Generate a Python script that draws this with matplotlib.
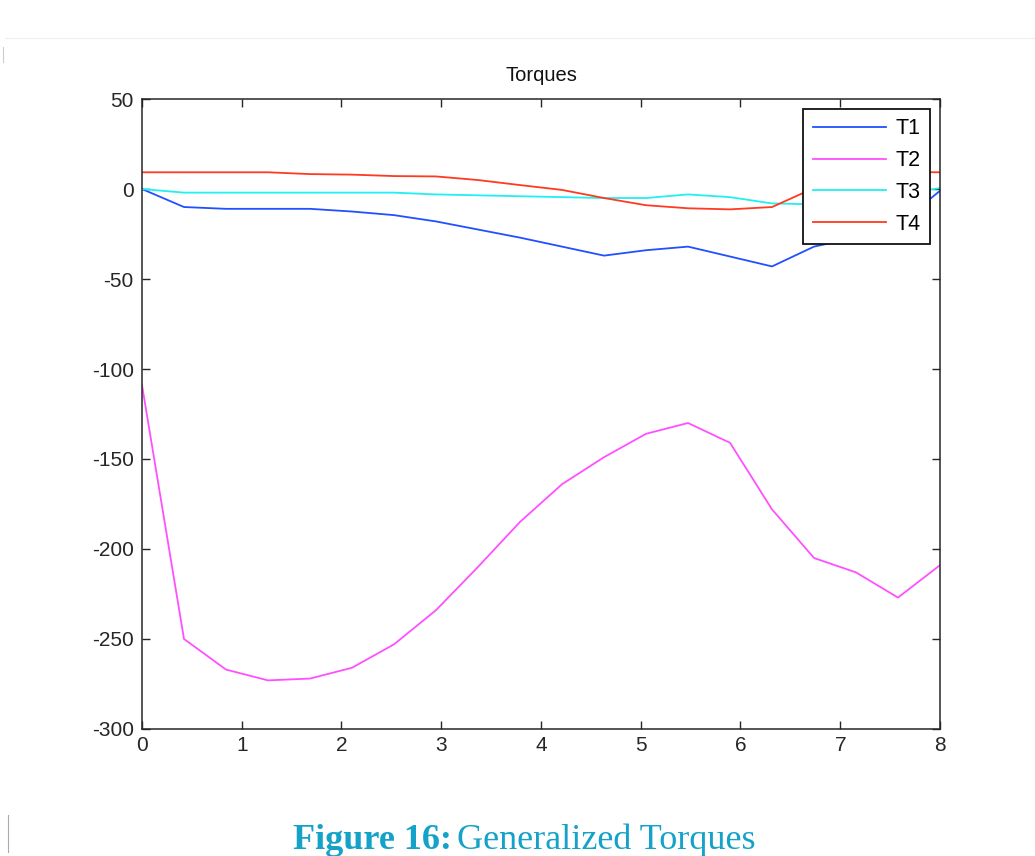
import matplotlib.pyplot as plt
from matplotlib.lines import Line2D

# time samples (20 points over 0..8)
t = [0.0, 0.421, 0.842, 1.263, 1.684, 2.105, 2.526, 2.947, 3.368, 3.789,
     4.211, 4.632, 5.053, 5.474, 5.895, 6.316, 6.737, 7.158, 7.579, 8.0]

T1 = [0, -10, -11, -11, -11, -12.5, -14.5, -18, -22.5, -27,
      -32, -37, -34, -32, -37.5, -43, -32, -27, -20, -1]
T2 = [-109, -250, -267, -273, -272, -266, -253, -234, -210, -185,
      -164, -149, -136, -130, -141, -178, -205, -213, -227, -209]
T3 = [0, -2, -2, -2, -2, -2, -2, -3, -3.5, -4,
      -4.5, -5, -5, -3, -4.5, -8, -8.5, -6, -3, 0.5]
T4 = [9.3, 9.3, 9.3, 9.3, 8.3, 8, 7.2, 7, 5, 2.2,
      -0.5, -5, -9, -10.7, -11.3, -10, 0.5, 8, 9.5, 9.3]

labels = ["T1", "T2", "T3", "T4"]
colors = ["#2050ff", "#ff50ff", "#20f0f0", "#ff3a20"]

plt.rcParams['font.family'] = ['Liberation Sans', 'DejaVu Sans']
plt.rcParams['axes.unicode_minus'] = False

fig = plt.figure(figsize=(10.35, 8.56), dpi=100)
ax = fig.add_axes([0.1372, 0.1484, 0.7710, 0.7359])

for y, lab, c in zip([T1, T2, T3, T4], labels, colors):
    ax.plot(t, y, color=c, lw=1.3, label=lab)

ax.set_xlim(0, 8)
ax.set_ylim(-300, 50)
ax.set_xticks(range(0, 9))
ax.set_yticks(range(-300, 51, 50))
ax.tick_params(direction='in', length=6, width=1, top=True, right=True,
               labelsize=15, colors='#262626')
ax.tick_params(axis='y', pad=6)
ax.tick_params(axis='x', pad=5)
for s in ax.spines.values():
    s.set_color('#262626')
    s.set_linewidth(1.1)

ax.set_title("Torques", fontsize=14.5, color='#111111', pad=13)

leg = ax.legend(loc='upper right', fontsize=15.5, handlelength=3.4,
                labelspacing=0.5, borderaxespad=0.45, fancybox=False,
                framealpha=1, borderpad=0.45, handletextpad=0.45)
leg.get_frame().set_edgecolor('#111111')
leg.get_frame().set_linewidth(1.3)

# caption below the chart
fig.text(0.437, 0.008, "Figure 16:", fontsize=26, fontweight='bold',
         family='Liberation Serif', color='#14a2c9', ha='right', va='baseline')
fig.text(0.442, 0.008, "Generalized Torques", fontsize=26,
         family='Liberation Serif', color='#14a2c9', ha='left', va='baseline')

# faint page edges from the screenshot
fig.add_artist(Line2D([0.005, 1.0], [1 - 38 / 856, 1 - 38 / 856],
                      color='#eeeeee', lw=0.8))
fig.add_artist(Line2D([0.003, 0.003], [1 - 47 / 856, 1 - 62 / 856],
                      color='#cccccc', lw=0.8))
fig.add_artist(Line2D([0.008, 0.008], [1 - 815 / 856, 1 - 852 / 856],
                      color='#aaaaaa', lw=0.8))

fig.savefig("out.png", dpi=100)
